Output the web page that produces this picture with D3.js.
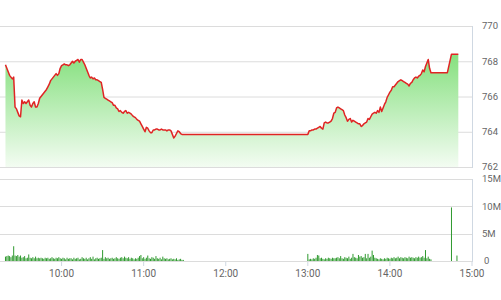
<!DOCTYPE html>
<meta charset="utf-8">
<title>Intraday</title>
<style>
    body { margin: 0; background: #fff; }
    text {
        font-family: Roboto, sans-serif;
        font-size: 10px;
        fill: #666;
    }
    .side text { font-size: 9.5px; }
    .grid line { stroke: #dcdcdc; stroke-width: 1px; }
    .frame { stroke: #cfd8e2; stroke-width: 1px; fill: none; }
</style>
<svg width="501" height="300"></svg>
<script src="https://d3js.org/d3.v7.min.js"></script>
<script>

    // price, one value a minute from morningStart / afternoonStart
    var morningStart = "09:19";
    var morningPrice = [
        767.8, 767.6, 767.4, 767.2, 767.1, 767.0, 767.1, 765.4, 765.3, 765.1,
        764.9, 764.85, 765.8, 765.6, 765.7, 765.6, 765.7, 765.8, 765.5, 765.4,
        765.6, 765.7, 765.4, 765.4, 765.6, 765.9, 766.0, 766.1, 766.2, 766.3,
        766.4, 766.55, 766.7, 766.9, 767.0, 767.1, 767.2, 767.3, 767.2, 767.3,
        767.6, 767.75, 767.8, 767.85, 767.8, 767.8, 767.75, 767.8, 767.9, 768.0,
        767.9, 768.0, 768.05, 768.1, 767.95, 768.1, 768.1, 767.95, 767.8, 767.6,
        767.4, 767.2, 767.05, 767.1, 767.0, 767.05, 766.95, 766.95, 766.9, 766.85,
        766.8, 766.4, 765.95, 765.9, 765.85, 765.8, 765.75, 765.7, 765.65, 765.5,
        765.5, 765.35, 765.3, 765.15, 765.2, 765.1, 765.05, 765.15, 765.2, 765.05,
        765.1, 765.05, 765.0, 764.9, 764.85, 764.8, 764.7, 764.65, 764.6, 764.45,
        764.3, 764.15, 764.0, 764.25, 764.2, 764.05, 763.95, 763.95, 764.1, 764.1,
        764.15, 764.15, 764.1, 764.1, 764.15, 764.1, 764.1, 764.1, 764.05, 764.1,
        764.1, 764.05, 763.85, 763.65, 763.75, 763.9, 764.05, 764.0, 763.9, 763.85,
        763.85
    ];
    var afternoonStart = "13:00";
    var afternoonPrice = [
        763.85, 764.05, 764.05, 764.1, 764.1, 764.15, 764.15, 764.2, 764.25, 764.3,
        764.2, 764.15, 764.5, 764.55, 764.5, 764.5, 764.55, 764.6, 764.75, 765.05,
        765.1, 765.35, 765.4, 765.35, 765.3, 765.25, 765.2, 764.95, 764.8, 764.6,
        764.7, 764.75, 764.55, 764.65, 764.6, 764.55, 764.5, 764.45, 764.45, 764.3,
        764.35, 764.45, 764.5, 764.55, 764.75, 764.7, 764.85, 765.0, 765.05, 765.1,
        765.05, 765.2, 765.1, 765.4, 765.15, 765.35, 765.55, 765.7, 765.95, 766.1,
        766.25, 766.35, 766.55, 766.55, 766.65, 766.75, 766.85, 766.9, 766.95, 766.9,
        766.85, 766.8, 766.75, 766.7, 766.6, 766.75, 766.8, 766.95, 767.05, 767.1,
        767.05, 767.15, 767.2, 767.3, 767.5, 767.4, 767.7, 767.9, 768.1, 767.6,
        767.35
    ];
    // closing session
    var closeTimes = ["14:42", "14:45", "14:50"];
    var closePrice = [767.35, 768.4, 768.4];

    // volume in millions, same minutes as the prices
    var morningVol = [
        0.8, 0.9, 1.0, 0.9, 0.7, 1.0, 2.7, 1.0, 0.9, 1.1,
        0.8, 1.0, 0.6, 0.7, 0.9, 0.5, 0.6, 1.2, 0.6, 0.5,
        0.7, 0.5, 0.8, 0.5, 0.6, 0.5, 0.6, 0.5, 0.4, 0.6,
        0.5, 0.6, 0.4, 0.5, 0.7, 0.5, 0.4, 0.6, 0.5, 0.7,
        0.5, 0.4, 0.6, 0.5, 0.3, 0.6, 0.4, 0.5, 0.5, 0.3,
        0.6, 0.4, 0.5, 0.6, 0.3, 0.4, 0.7, 0.5, 0.4, 0.6,
        0.3, 0.5, 0.7, 0.4, 0.8, 0.3, 0.5, 0.6, 0.4, 0.5,
        0.6, 2.0, 0.4, 0.7, 0.5, 0.6, 0.4, 0.5, 0.6, 0.4,
        0.5, 0.7, 0.5, 0.4, 0.6, 0.7, 0.5, 0.8, 0.6, 0.5,
        0.7, 0.4, 0.6, 0.5, 0.3, 0.5, 0.4, 0.6, 0.9, 1.1,
        0.5, 0.7, 0.4, 0.6, 1.0, 0.5, 0.4, 0.7, 0.6, 0.4,
        0.9, 0.5, 0.4, 0.6, 0.3, 0.8, 0.5, 0.4, 0.5, 0.3,
        0.4, 0.5, 0.3, 0.4, 0.3, 0.5, 0.2, 0.3, 0.4, 0.2,
        0.2
    ];
    var afternoonVol = [
        1.3, 0.3, 0.4, 0.3, 0.5, 0.4, 0.6, 1.1, 1.0, 0.5,
        0.6, 0.4, 0.3, 0.5, 0.4, 0.6, 0.5, 0.4, 0.6, 0.5,
        0.5, 0.6, 0.7, 0.5, 0.9, 0.5, 0.4, 0.7, 0.6, 0.5,
        0.8, 0.4, 0.6, 1.3, 0.7, 0.6, 0.5, 1.1, 0.8, 0.9,
        0.6, 0.7, 1.3, 0.5, 1.3, 0.6, 0.8, 1.9, 1.1, 0.6,
        0.5, 0.4, 0.3, 0.5, 0.4, 0.3, 0.5, 0.4, 0.6, 0.5,
        0.4, 0.6, 0.5, 0.7, 0.5, 0.6, 0.8, 0.5, 0.7, 0.6,
        0.5, 0.7, 0.6, 0.5, 0.8, 0.6, 0.7, 0.6, 0.5, 0.7,
        0.6, 0.8, 0.6, 0.7, 0.9, 0.6, 2.0, 0.5, 0.8, 0.4,
        0.3
    ];
    var closeVolTimes = ["14:45", "14:49"];
    var closeVol = [9.8, 1.0];

    var timeTicks = ["10:00", "11:00", "12:00", "13:00", "14:00", "15:00"];
    var priceTicks = [762, 764, 766, 768, 770];
    var volTicks = [0, 5, 10, 15];

    var parse = d3.timeParse("%H:%M");

    function minutes(start, values) {
        var t0 = parse(start);
        return values.map(function (v, i) {
            return { t: d3.timeMinute.offset(t0, i), v: v };
        });
    }

    var prices = minutes(morningStart, morningPrice)
        .concat(minutes(afternoonStart, afternoonPrice))
        .concat(closeTimes.map(function (s, i) { return { t: parse(s), v: closePrice[i] }; }));

    var volumes = minutes(morningStart, morningVol)
        .concat(minutes(afternoonStart, afternoonVol))
        .concat(closeVolTimes.map(function (s, i) { return { t: parse(s), v: closeVol[i] }; }));

    var svg = d3.select("svg");
    var right = 472;

    var x = d3.scaleTime()
        .domain([parse("09:15"), parse("15:00")])
        .range([0, right]);

    var y = d3.scaleLinear().domain([762, 770]).range([167, 26]);
    var yv = d3.scaleLinear().domain([0, 15]).range([261, 179]);

    // gradient under the price line
    var grad = svg.append("defs").append("linearGradient")
        .attr("id", "fillGrad")
        .attr("gradientUnits", "userSpaceOnUse")
        .attr("x1", 0).attr("x2", 0)
        .attr("y1", 55).attr("y2", 167);
    grad.append("stop").attr("offset", "0%").attr("stop-color", "#86e07f");
    grad.append("stop").attr("offset", "100%").attr("stop-color", "#f3fcf2");

    // grids
    svg.append("g").attr("class", "grid")
        .selectAll("line")
        .data(priceTicks)
        .enter().append("line")
        .attr("x1", 0).attr("x2", right)
        .attr("y1", function (d) { return y(d) + 0.5; })
        .attr("y2", function (d) { return y(d) + 0.5; });

    svg.append("g").attr("class", "grid")
        .selectAll("line")
        .data(volTicks)
        .enter().append("line")
        .attr("x1", 0).attr("x2", right)
        .attr("y1", function (d) { return Math.round(yv(d)) + 0.5; })
        .attr("y2", function (d) { return Math.round(yv(d)) + 0.5; });

    // right frame of both panels
    svg.append("line").attr("class", "frame")
        .attr("x1", right + 0.5).attr("x2", right + 0.5)
        .attr("y1", y(770)).attr("y2", y(762) + 1);
    svg.append("line").attr("class", "frame")
        .attr("x1", right + 0.5).attr("x2", right + 0.5)
        .attr("y1", yv(15)).attr("y2", yv(0) + 1);

    // area + line
    var area = d3.area()
        .x(function (d) { return x(d.t); })
        .y0(y(762))
        .y1(function (d) { return y(d.v); });

    var line = d3.line()
        .x(function (d) { return x(d.t); })
        .y(function (d) { return y(d.v); });

    svg.append("path")
        .datum(prices)
        .attr("d", area)
        .attr("fill", "url(#fillGrad)");

    svg.append("path")
        .datum(prices)
        .attr("d", line)
        .attr("fill", "none")
        .attr("stroke", "#e02424")
        .attr("stroke-width", 1.5)
        .attr("stroke-linejoin", "round");

    // volume bars
    svg.append("g")
        .selectAll("rect")
        .data(volumes)
        .enter().append("rect")
        .attr("x", function (d) { return x(d.t) - 0.5; })
        .attr("width", 1)
        .attr("y", function (d) { return yv(d.v); })
        .attr("height", function (d) { return yv(0) - yv(d.v); })
        .attr("fill", "#2f9a2f");

    // time axis
    var xt = svg.append("g")
        .selectAll("g")
        .data(timeTicks)
        .enter().append("g")
        .attr("transform", function (d) { return "translate(" + x(parse(d)) + ",0)"; });
    xt.append("line")
        .attr("y1", 262).attr("y2", 266)
        .attr("stroke", "#cfd8e2");
    xt.append("text")
        .attr("y", 277)
        .attr("text-anchor", "middle")
        .text(function (d) { return d; });

    // right labels
    svg.append("g").attr("class", "side")
        .selectAll("text")
        .data(priceTicks)
        .enter().append("text")
        .attr("x", 482)
        .attr("y", function (d) { return y(d); })
        .attr("dy", "0.35em")
        .text(function (d) { return d; });

    svg.append("g").attr("class", "side")
        .selectAll("text")
        .data(volTicks)
        .enter().append("text")
        .attr("x", function (d) { return d === 0 ? 484 : 482; })
        .attr("y", function (d) { return yv(d); })
        .attr("dy", "0.35em")
        .text(function (d) { return d === 0 ? "0" : d + "M"; });

</script>
